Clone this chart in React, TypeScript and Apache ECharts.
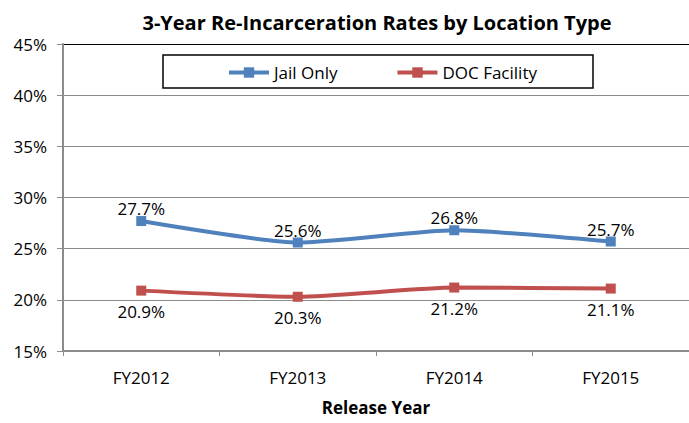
import React, { useEffect, useRef } from "react";
import * as echarts from "echarts";

const categories = ["FY2012", "FY2013", "FY2014", "FY2015"];
const jailOnly = [27.7, 25.6, 26.8, 25.7];
const docFacility = [20.9, 20.3, 21.2, 21.1];
const seriesNames = ["Jail Only", "DOC Facility"];

const FONT = "'Open Sans', Lato, sans-serif";

export default function App() {
  const ref = useRef<HTMLDivElement>(null);
  useEffect(() => {
    if (!ref.current) return;
    const chart = echarts.init(ref.current, undefined, { renderer: "svg" });
    const gridColors = ["#8c8c8c", "#8c8c8c", "#8c8c8c", "#8c8c8c", "#8c8c8c", "#8c8c8c", "#000000"];
    chart.setOption({
      animation: false,
      backgroundColor: "#ffffff",
      textStyle: { fontFamily: FONT },
      title: {
        text: "3-Year Re-Incarceration Rates by Location Type",
        left: 372,
        textAlign: "center",
        top: 7,
        textStyle: { fontFamily: FONT, fontSize: 20, fontWeight: "bold", color: "#000" },
      },
      graphic: [
        {
          type: "rect",
          shape: { x: 163, y: 55, width: 430, height: 33 },
          style: { fill: "#fff", stroke: "#000", lineWidth: 1.5 },
          z: 5,
        },
      ],
      legend: {
        left: 222,
        top: 59,
        itemWidth: 40,
        itemHeight: 13,
        itemGap: 58,
        z: 10,
        lineStyle: { width: 4 },
        textStyle: { fontFamily: FONT, fontSize: 17, color: "#000" },
        data: seriesNames,
      },
      grid: { left: 63, right: -5, top: 44, bottom: 72 },
      xAxis: {
        type: "category",
        data: categories,
        boundaryGap: true,
        axisLine: { lineStyle: { color: "#8c8c8c", width: 2 } },
        axisTick: { show: true, length: 5, lineStyle: { color: "#8c8c8c" } },
        axisLabel: { fontFamily: FONT, fontSize: 17, color: "#000", margin: 18 },
        name: "Release Year",
        nameLocation: "middle",
        nameGap: 48,
        nameTextStyle: { fontFamily: FONT, fontSize: 17, fontWeight: "bold", color: "#000" },
      },
      yAxis: {
        type: "value",
        min: 15,
        max: 45,
        interval: 5,
        axisLine: { show: true, lineStyle: { color: "#8c8c8c", width: 2 } },
        axisTick: { show: true, length: 6, lineStyle: { color: "#8c8c8c" } },
        axisLabel: { fontFamily: FONT, fontSize: 17, color: "#000", formatter: "{value}%", margin: 16 },
        splitLine: { show: true, lineStyle: { color: gridColors, width: 1 } },
      },
      series: [
        {
          name: seriesNames[0],
          type: "line",
          data: jailOnly,
          smooth: 0.2,
          symbol: "rect",
          symbolSize: 10,
          lineStyle: { color: "#4F81BD", width: 4 },
          itemStyle: { color: "#4F81BD" },
          label: {
            show: true,
            position: "top",
            distance: -1,
            formatter: (p: any) => p.value.toFixed(1) + "%",
            fontFamily: FONT,
            fontSize: 17,
            color: "#000",
          },
        },
        {
          name: seriesNames[1],
          type: "line",
          data: docFacility,
          smooth: 0.2,
          symbol: "rect",
          symbolSize: 10,
          lineStyle: { color: "#C0504D", width: 4 },
          itemStyle: { color: "#C0504D" },
          label: {
            show: true,
            position: "bottom",
            distance: 7,
            formatter: (p: any) => p.value.toFixed(1) + "%",
            fontFamily: FONT,
            fontSize: 17,
            color: "#000",
          },
        },
      ],
    });
    return () => chart.dispose();
  }, []);
  return <div ref={ref} style={{ width: 689, height: 423, position: "absolute", left: 0, top: 0 }} />;
}
